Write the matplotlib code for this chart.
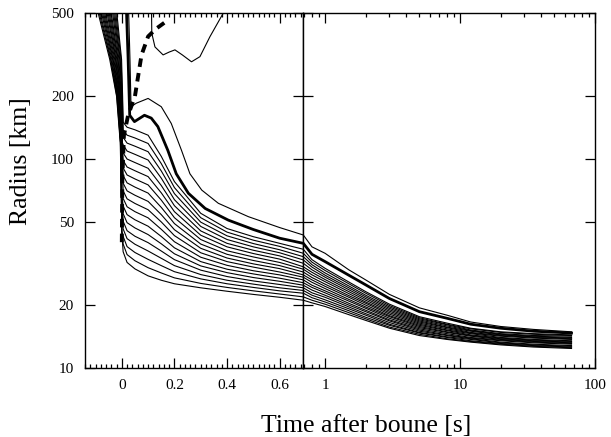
import numpy as np
import matplotlib
matplotlib.use('Agg')
import matplotlib.pyplot as plt
from matplotlib.ticker import FixedLocator, FixedFormatter, MultipleLocator, LogLocator, NullLocator, NullFormatter

plt.rcParams['font.family'] = ['Liberation Serif', 'DejaVu Serif']

# ---------------- data ----------------
# post-bounce radii of the inner mass shells (bottom to top), left panel
t_post = [0.005, 0.02, 0.05, 0.1, 0.15, 0.2, 0.3, 0.4, 0.5, 0.6, 0.69]
r_post = [
    [36.0, 32.0, 29.8, 27.6, 26.3, 25.3, 24.2, 23.3, 22.5, 21.8, 21.1],
    [39.2, 34.9, 32.6, 30.2, 28.5, 27.0, 25.4, 24.3, 23.4, 22.6, 21.9],
    [42.6, 38.1, 35.7, 33.1, 30.9, 28.9, 26.7, 25.3, 24.3, 23.4, 22.8],
    [46.3, 41.6, 39.1, 36.3, 33.5, 30.9, 28.0, 26.3, 25.2, 24.2, 23.5],
    [50.4, 45.4, 42.7, 39.8, 36.3, 33.0, 29.4, 27.4, 26.1, 25.1, 24.2],
    [54.8, 49.6, 46.8, 43.5, 39.3, 35.2, 30.8, 28.6, 27.1, 26.0, 24.9],
    [59.6, 54.2, 51.2, 47.7, 42.6, 37.6, 32.3, 29.7, 28.2, 26.9, 25.6],
    [64.8, 59.1, 56.0, 52.3, 46.1, 40.2, 33.9, 31.0, 29.2, 27.9, 26.4],
    [70.5, 64.5, 61.3, 57.2, 50.0, 43.0, 35.6, 32.3, 30.4, 28.8, 27.2],
    [76.7, 70.4, 67.1, 62.7, 54.2, 45.9, 37.4, 33.6, 31.5, 29.9, 27.9],
    [83.4, 76.9, 73.4, 68.7, 58.7, 49.1, 39.2, 35.0, 32.7, 30.9, 28.8],
    [90.7, 83.9, 80.3, 75.2, 63.6, 52.4, 41.2, 36.4, 34.0, 32.0, 29.7],
    [98.6, 91.6, 87.9, 82.4, 68.9, 56.0, 43.2, 38.0, 35.3, 33.2, 30.5],
    [107.0, 100.0, 96.2, 90.3, 74.7, 59.8, 45.3, 39.5, 36.6, 34.4, 31.7],
    [117.0, 109.2, 105.3, 98.9, 81.0, 63.9, 47.6, 41.2, 38.0, 35.6, 32.9],
    [127.0, 119.2, 115.2, 108.4, 87.7, 68.3, 49.9, 42.9, 39.4, 36.8, 34.1],
    [138.0, 130.1, 126.1, 118.7, 95.1, 73.0, 52.4, 44.7, 40.9, 38.2, 35.4],
    [150.0, 142.0, 138.0, 130.0, 103.0, 78.0, 55.0, 46.5, 42.5, 39.5, 37.0],
]
# infall: time at which each inner shell passes these radii
r_infall_levels = [500, 300, 200, 120, 70, 45]
t_infall = [
    [-0.090, -0.046, -0.020, -0.006, -0.002, 0.000],
    [-0.086, -0.043, -0.019, -0.005, -0.002, 0.000],
    [-0.082, -0.041, -0.017, -0.005, -0.002, 0.000],
    [-0.077, -0.038, -0.016, -0.004, -0.002, 0.000],
    [-0.073, -0.035, -0.014, -0.004, -0.001, 0.001],
    [-0.069, -0.033, -0.013, -0.003, -0.001, 0.001],
    [-0.065, -0.030, -0.012, -0.002, -0.001, 0.001],
    [-0.061, -0.027, -0.010, -0.002, 0.000, 0.001],
    [-0.056, -0.024, -0.009, -0.001, 0.000, 0.001],
    [-0.052, -0.022, -0.007, -0.001, 0.000, 0.001],
    [-0.048, -0.019, -0.006, 0.000, 0.001, 0.002],
    [-0.044, -0.016, -0.005, 0.001, 0.001, 0.002],
    [-0.040, -0.014, -0.003, 0.001, 0.001, 0.002],
    [-0.035, -0.011, -0.002, 0.002, 0.002, 0.002],
    [-0.031, -0.008, 0.000, 0.002, 0.002, 0.002],
    [-0.027, -0.006, 0.001, 0.003, 0.003, 0.003],
    [-0.023, -0.003, 0.002, 0.003, 0.003, 0.003],
    [-0.019, -0.001, 0.003, 0.004, 0.004, 0.004],
]
# highlighted (thick) shell, left panel
thick_t = [0.018, 0.024, 0.030, 0.048, 0.086, 0.112, 0.137, 0.175, 0.207, 0.253, 0.317, 0.405, 0.50, 0.60, 0.69]
thick_r = [500, 300, 162, 151, 162, 157, 143, 110, 85, 68.6, 58, 51, 46, 41.8, 39.5]
# outermost thin shell with bump
outer_t = [0.026, 0.031, 0.035, 0.055, 0.100, 0.150, 0.188, 0.227, 0.259, 0.304, 0.367, 0.481, 0.60, 0.69]
outer_r = [500, 300, 178, 185, 195, 178, 148, 110, 85, 71, 61.4, 53, 47, 43.3]
# shell that is ejected again
eject_t = [0.113, 0.114, 0.126, 0.157, 0.180, 0.202, 0.230, 0.265, 0.297, 0.335, 0.386]
eject_r = [500, 400, 344, 315, 325, 333, 315, 292, 309, 385, 500]
# shock radius (dashed)
shock_t = [0.0, 0.002, 0.008, 0.024, 0.050, 0.062, 0.075, 0.100, 0.130, 0.168]
shock_r = [40, 80, 130, 162, 200, 249, 315, 386, 420, 455]

# right panel (log time)
t_late = [0.69, 0.8, 1.0, 1.5, 2.0, 3.0, 5.0, 8.0, 12.0, 20.0, 35.0, 67.0]
r_late = [
    [21.1, 20.5, 19.7, 18.0, 16.9, 15.5, 14.3, 13.7, 13.3, 12.9, 12.6, 12.4],
    [21.9, 21.1, 20.2, 18.4, 17.2, 15.7, 14.5, 13.8, 13.4, 13.0, 12.7, 12.5],
    [22.8, 21.7, 20.7, 18.8, 17.5, 16.0, 14.7, 14.0, 13.5, 13.1, 12.8, 12.6],
    [23.5, 22.3, 21.2, 19.2, 17.9, 16.2, 14.8, 14.1, 13.7, 13.2, 12.9, 12.7],
    [24.2, 22.9, 21.8, 19.6, 18.2, 16.5, 15.0, 14.3, 13.8, 13.3, 13.0, 12.8],
    [24.9, 23.6, 22.3, 20.0, 18.6, 16.8, 15.2, 14.4, 13.9, 13.5, 13.2, 13.0],
    [25.6, 24.3, 22.9, 20.4, 18.9, 17.0, 15.4, 14.6, 14.0, 13.6, 13.3, 13.1],
    [26.4, 24.9, 23.4, 20.9, 19.3, 17.3, 15.6, 14.8, 14.2, 13.7, 13.4, 13.2],
    [27.2, 25.7, 24.0, 21.3, 19.6, 17.6, 15.8, 14.9, 14.3, 13.8, 13.5, 13.3],
    [27.9, 26.4, 24.6, 21.8, 20.0, 17.8, 16.0, 15.1, 14.4, 13.9, 13.6, 13.4],
    [28.8, 27.1, 25.2, 22.2, 20.4, 18.1, 16.2, 15.2, 14.6, 14.0, 13.7, 13.5],
    [29.7, 27.9, 25.9, 22.7, 20.7, 18.4, 16.4, 15.4, 14.7, 14.2, 13.9, 13.7],
    [30.5, 28.7, 26.5, 23.2, 21.1, 18.7, 16.6, 15.6, 14.8, 14.3, 14.0, 13.8],
    [31.7, 29.5, 27.2, 23.7, 21.5, 19.0, 16.8, 15.7, 15.0, 14.4, 14.1, 13.9],
    [32.9, 30.4, 27.8, 24.2, 21.9, 19.3, 17.0, 15.9, 15.1, 14.5, 14.2, 14.0],
    [34.1, 31.2, 28.5, 24.7, 22.3, 19.6, 17.2, 16.1, 15.2, 14.6, 14.3, 14.2],
    [35.4, 32.1, 29.3, 25.3, 22.8, 19.9, 17.4, 16.2, 15.4, 14.8, 14.5, 14.3],
    [37.0, 33.0, 30.0, 25.8, 23.2, 20.2, 17.6, 16.4, 15.5, 14.9, 14.6, 14.4],
]
thick_late = [39.5, 35.0, 32.3, 27.8, 25.0, 21.5, 18.6, 17.3, 16.2, 15.5, 15.0, 14.7]
outer_late = [43.3, 38.0, 35.4, 29.5, 26.4, 22.5, 19.4, 17.9, 16.6, 15.8, 15.3, 14.9]

y_ticks = [10, 20, 50, 100, 200, 500]
y_labels = ['10', '20', '50', '100', '200', '500']
xl_ticks = [0, 0.2, 0.4, 0.6]
xl_labels = ['0', '0.2', '0.4', '0.6']
xr_ticks = [1, 10, 100]
xr_labels = ['1', '10', '100']

# ---------------- figure ----------------
fig = plt.figure(figsize=(6.11, 4.37), dpi=100)
axL = fig.add_axes([0.1391, 0.1579, 0.3573, 0.8124])
axR = fig.add_axes([0.4964, 0.1579, 0.4774, 0.8124])

thin = 0.8
for k in range(len(r_post)):
    r0 = r_post[k][0]
    ts = [t for t, r in zip(t_infall[k], r_infall_levels) if r > r0] + list(t_post)
    rs = [r for r in r_infall_levels if r > r0] + list(r_post[k])
    axL.plot(ts, rs, color='black', lw=thin)
axL.plot(outer_t, outer_r, color='black', lw=thin)
axL.plot(eject_t, eject_r, color='black', lw=thin)
axL.plot(thick_t, thick_r, color='black', lw=2.0)
axL.plot(shock_t, shock_r, color='black', lw=2.8, ls=(0, (2.2, 1.6)), zorder=5)

for row in r_late:
    axR.plot(t_late, row, color='black', lw=thin)
axR.plot(t_late, outer_late, color='black', lw=thin)
axR.plot(t_late, thick_late, color='black', lw=2.0)

for ax in (axL, axR):
    ax.set_yscale('log')
    ax.set_ylim(10, 500)
    ax.yaxis.set_major_locator(FixedLocator(y_ticks))
    ax.yaxis.set_major_formatter(FixedFormatter(y_labels))
    ax.yaxis.set_minor_locator(NullLocator())
    ax.yaxis.set_minor_formatter(NullFormatter())
    for s in ax.spines.values():
        s.set_linewidth(1.0)
    ax.tick_params(which='both', direction='in', top=True, bottom=True,
                   left=True, right=True, labelsize=11, width=0.9)
    ax.tick_params(which='major', length=7, pad=8)
    ax.tick_params(which='minor', length=3.2)

axL.set_xlim(-0.14, 0.69)
axL.xaxis.set_major_locator(FixedLocator(xl_ticks))
axL.xaxis.set_major_formatter(FixedFormatter(xl_labels))
axL.xaxis.set_minor_locator(MultipleLocator(0.02))
axL.tick_params(labelright=False)

axR.set_xscale('log')
axR.set_xlim(0.69, 100)
axR.xaxis.set_major_locator(FixedLocator(xr_ticks))
axR.xaxis.set_major_formatter(FixedFormatter(xr_labels))
axR.xaxis.set_minor_locator(LogLocator(base=10, subs=np.arange(2, 10) / 1.0, numticks=20))
axR.xaxis.set_minor_formatter(NullFormatter())
axR.tick_params(labelleft=False, labelright=False)

fig.text(21 / 611, 1 - 161 / 437, 'Radius [km]', rotation=90, ha='center', va='center', fontsize=18.5)
fig.text(366 / 611, 5 / 437, 'Time after boune [s]', ha='center', va='baseline', fontsize=18.5)

fig.savefig('out.png', dpi=100)
